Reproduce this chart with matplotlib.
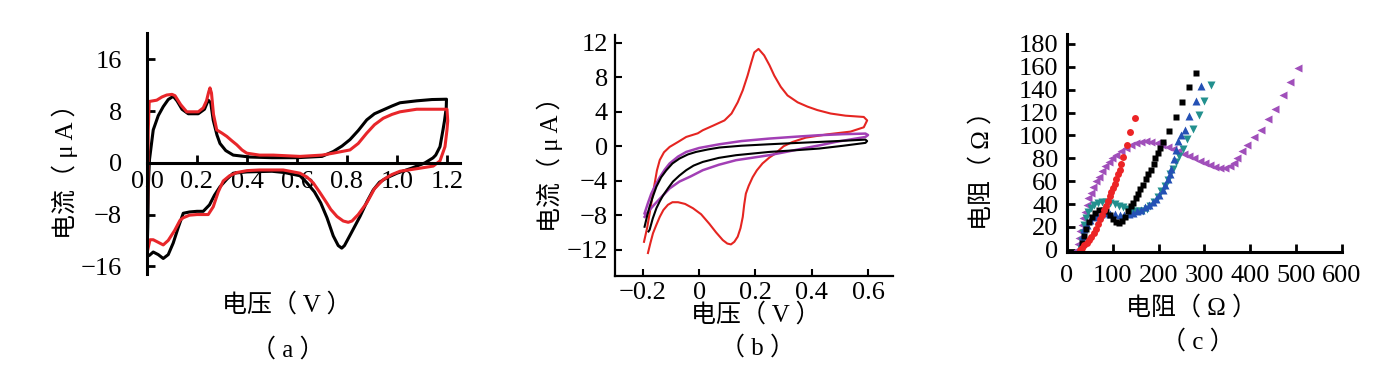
import matplotlib
matplotlib.use("Agg")
import matplotlib.pyplot as plt

plt.rcParams['font.family'] = ['Liberation Serif', 'Noto Sans CJK SC']
plt.rcParams['axes.unicode_minus'] = True

# (a) CV, 两条曲线 (电压 V, 电流 μA)
a_black_x = [0.0, 0.003, 0.006, 0.01, 0.025, 0.045, 0.065, 0.085, 0.105, 0.12, 0.14, 0.165, 0.205,
             0.23, 0.245, 0.255, 0.265, 0.28, 0.292, 0.315, 0.345, 0.412, 0.5, 0.6, 0.7, 0.745,
             0.78, 0.812, 0.845, 0.879, 0.91, 0.945, 0.98, 1.012, 1.079, 1.14, 1.198,
             1.197, 1.19, 1.184, 1.172, 1.155, 1.144, 1.112, 1.06, 1.0, 0.96, 0.93, 0.905,
             0.88, 0.852, 0.815, 0.79, 0.779, 0.765, 0.745, 0.72, 0.695, 0.67, 0.64, 0.612,
             0.55, 0.5, 0.4, 0.345, 0.32, 0.292, 0.27, 0.25, 0.225, 0.2, 0.17, 0.145, 0.125,
             0.105, 0.085, 0.065, 0.045, 0.025, 0.01, 0.0]
a_black_y = [-14.5, -10, -3, 0.5, 5.1, 7.3, 8.7, 9.8, 10.3, 9.6, 8.3, 7.6, 7.6,
             8.3, 9.7, 9.3, 6.6, 4.3, 3.0, 1.9, 1.2, 0.9, 0.8, 0.8, 1.0, 1.75,
             2.6, 3.6, 5.0, 6.65, 7.6, 8.2, 8.8, 9.3, 9.6, 9.8, 9.85,
             8.5, 6.5, 5.1, 2.5, 1.2, 0.77, 0.0, -0.8, -1.6, -2.3, -3.0, -4.2,
             -6.0, -8.3, -11.0, -12.8, -13.2, -12.8, -11.3, -8.5, -6.2, -4.5, -3.1, -2.0,
             -1.5, -1.3, -1.4, -1.6, -2.5, -3.7, -5.0, -6.5, -7.5, -7.5, -7.6, -7.8, -10.0,
             -12.4, -14.2, -14.8, -14.2, -13.8, -14.3, -14.5]

a_red_x = [0.0, 0.003, 0.005, 0.009, 0.039, 0.06, 0.079, 0.1, 0.112, 0.135, 0.159, 0.205, 0.225,
           0.238, 0.247, 0.252, 0.258, 0.266, 0.279, 0.3, 0.319, 0.34, 0.359, 0.38, 0.399, 0.45, 0.505,
           0.612, 0.7, 0.745, 0.812, 0.845, 0.879, 0.91, 0.945, 0.98, 1.012, 1.079, 1.14, 1.2,
           1.203, 1.2, 1.192, 1.172, 1.145, 1.08, 1.012, 0.98, 0.945, 0.91, 0.879, 0.845, 0.82,
           0.805, 0.785, 0.76, 0.735, 0.719, 0.69, 0.665, 0.64, 0.612, 0.545, 0.45, 0.4, 0.359,
           0.33, 0.305, 0.285, 0.265, 0.245, 0.2, 0.17, 0.145, 0.132, 0.11, 0.085, 0.065, 0.045,
           0.025, 0.012, 0.0]
a_red_y = [-14.0, -5, 5, 9.5, 9.7, 10.2, 10.5, 10.6, 10.4, 9.0, 7.9, 7.9, 8.5,
           9.6, 11.0, 11.6, 10.8, 7.5, 5.1, 4.6, 4.1, 3.4, 2.8, 2.0, 1.5, 1.2, 1.2,
           1.0, 1.2, 1.5, 2.0, 3.0, 4.6, 5.9, 6.9, 7.5, 7.9, 8.3, 8.3, 8.3,
           6.5, 5.1, 2.5, 0.3, -0.5, -0.9, -1.3, -1.8, -2.6, -4.0, -6.2, -8.0, -9.0,
           -9.2, -9.0, -8.3, -7.2, -6.2, -4.5, -3.1, -2.2, -1.6, -1.1, -1.1, -1.2, -1.5,
           -2.0, -2.8, -4.5, -6.8, -8.0, -8.0, -8.1, -8.5, -8.9, -10.5, -12.0, -12.7, -12.3,
           -11.9, -11.9, -14.0]

# (b) CV, 三条曲线
b_red_x = [-0.196, -0.185, -0.176, -0.167, -0.158, -0.15, -0.14, -0.125, -0.105, -0.075, -0.046,
           -0.005, 0.013, 0.05, 0.09, 0.115, 0.137, 0.155, 0.172, 0.185, 0.196, 0.211, 0.231,
           0.25, 0.267, 0.29, 0.314, 0.35, 0.385, 0.42, 0.467, 0.52, 0.585, 0.597, 0.585, 0.538,
           0.46, 0.379, 0.332, 0.30, 0.284, 0.273, 0.25, 0.225, 0.205, 0.19, 0.176, 0.166, 0.16,
           0.155, 0.147, 0.137, 0.125, 0.113, 0.1, 0.084, 0.06, 0.036, 0.007, -0.022, -0.05,
           -0.075, -0.095, -0.111, -0.127, -0.14, -0.153, -0.164, -0.173, -0.182]
b_red_y = [-11.1, -9.5, -7.8, -6.0, -4.3, -2.8, -1.6, -0.7, -0.08, 0.5, 1.08,
           1.5, 1.86, 2.4, 3.0, 3.8, 5.1, 6.5, 8.2, 9.7, 10.9, 11.3, 10.55,
           9.4, 8.2, 6.9, 5.9, 5.1, 4.6, 4.2, 3.8, 3.55, 3.4, 3.0, 2.2, 1.7,
           1.4, 1.0, 0.5, 0.0, -0.46, -0.8, -1.3, -2.0, -2.8, -3.6, -4.6, -5.5, -6.8,
           -8.2, -9.5, -10.5, -11.1, -11.4, -11.3, -10.9, -10.0, -9.0, -7.9, -7.2, -6.7,
           -6.5, -6.5, -6.8, -7.4, -8.2, -9.2, -10.1, -11.2, -12.4]
b_black_x = [-0.194, -0.185, -0.176, -0.164, -0.152, -0.135, -0.117, -0.095, -0.07, -0.04, -0.011,
             0.03, 0.072, 0.15, 0.249, 0.34, 0.426, 0.51, 0.591, 0.597,
             0.591, 0.51, 0.426, 0.34, 0.249, 0.131, 0.07, 0.013, -0.02, -0.046, -0.07, -0.093,
             -0.11, -0.128, -0.14, -0.152, -0.165, -0.176, -0.18]
b_black_y = [-9.35, -8.1, -7.0, -5.8, -4.7, -3.6, -2.8, -2.0, -1.43, -0.95, -0.66,
             -0.38, -0.15, 0.06, 0.23, 0.37, 0.5, 0.63, 0.77, 0.6,
             0.39, 0.05, -0.27, -0.47, -0.66, -1.04, -1.35, -1.82, -2.25, -2.78, -3.4, -4.1,
             -4.85, -5.7, -6.4, -7.2, -8.4, -9.7, -9.9]
b_purple_x = [-0.194, -0.182, -0.17, -0.155, -0.14, -0.122, -0.105, -0.075, -0.046, 0.0, 0.072,
              0.15, 0.249, 0.34, 0.426, 0.51, 0.591, 0.6,
              0.591, 0.54, 0.485, 0.43, 0.367, 0.31, 0.249, 0.19, 0.131, 0.07, 0.013, -0.03,
              -0.07, -0.105, -0.14, -0.16, -0.176, -0.194]
b_purple_y = [-7.8, -6.6, -5.5, -4.5, -3.6, -2.7, -2.0, -1.2, -0.66, -0.2, 0.23,
              0.6, 0.89, 1.1, 1.28, 1.4, 1.47, 1.3,
              1.08, 0.8, 0.5, 0.12, -0.27, -0.65, -1.04, -1.33, -1.62, -2.15, -2.78, -3.5,
              -4.1, -4.9, -6.1, -6.8, -7.4, -8.2]

# (c) 阻抗谱
c_black_x = [30, 33, 37, 42, 48, 55, 62, 70, 78, 86, 93, 100, 107, 114, 121, 127, 133, 139, 144,
             150, 155, 160, 166, 172, 178, 183, 189, 193, 198, 204, 210, 222, 238, 252, 266, 281]
c_black_y = [0, 6, 12, 18, 24, 29, 32.5, 34.5, 35, 33.5, 30.5, 26.5, 24, 23.5, 25, 29, 33.5, 38, 41,
             45, 49, 53.5, 57, 62, 66, 70, 75, 80, 84.5, 89, 94, 104, 116, 129, 142, 155]
c_red_x = [28, 33, 38, 43, 48, 53, 58, 63, 68, 72, 77, 81, 86, 90, 94, 97, 100, 104, 108, 111,
           115, 118, 122, 130, 138, 147.5]
c_red_y = [0, 2, 4, 6, 8.5, 11.5, 15, 18.5, 22.5, 26.5, 30.5, 34.5, 38.5, 43, 47, 50.5, 54, 57.5,
           62, 66, 70, 75, 81.5, 92, 103, 115]
c_blue_x = [31, 32, 34, 38, 43, 50, 58, 66, 75, 85, 95, 105, 115, 125, 135, 144, 153, 162, 171,
            180, 188, 195, 202, 209, 215, 220, 224, 228, 233, 237, 242, 249, 257, 267, 281, 293]
c_blue_y = [0, 6, 12, 18, 22, 26, 28.5, 30, 31.5, 32, 31.5, 31, 30.6, 30.6, 31, 32, 33.5, 35, 37,
            39, 41.5, 44, 48, 52.5, 57, 61.5, 66, 71, 79, 87, 95, 100, 105, 117, 130, 143]
c_teal_x = [31, 33, 35, 38, 42, 47, 53, 60, 68, 77, 86, 95, 104, 113, 122, 131, 140, 149, 158,
            166, 174, 182, 190, 198, 206, 213, 220, 226, 232, 238, 245, 253, 262, 276, 288, 300, 315]
c_teal_y = [1, 8, 15, 22, 28, 33, 36.5, 39, 40.5, 41.5, 41.5, 41, 40, 38.5, 37, 35.5, 34.5, 33.5,
            33.5, 34, 36, 38.5, 42, 46.5, 51, 55.5, 61, 66, 71, 77, 82, 88, 96.5, 106, 118, 130, 144]
c_purple_x = [22.5, 24, 26, 29, 32, 35, 39, 43, 47, 52, 57, 63, 69, 76, 83, 91, 99, 108, 118, 128,
              139, 150, 161, 172, 184, 196, 208, 220, 231, 243, 255, 266, 278, 290, 301, 312, 323,
              334, 345, 355, 364, 372, 382, 394, 409, 424, 439, 455, 471, 487, 504]
c_purple_y = [0, 5, 10, 16, 22, 28, 33, 39, 45, 50, 55, 60, 64, 69, 73, 77, 80, 83, 86, 89,
              91.5, 93, 94.5, 95, 94.7, 93.5, 92, 90, 88, 86, 84, 82, 80, 78, 76, 74, 72.5,
              71.5, 71.5, 73, 76, 80, 86, 92, 98.5, 105, 114, 123, 135, 147, 159]

fig = plt.figure(figsize=(13.88, 3.74), dpi=100)

tick_font = 19
lab_font = 18

# ---- (a)
ax1 = fig.add_axes([0.1059, 0.2674, 0.2255, 0.6444])
ax1.plot(a_black_x, a_black_y, color='black', lw=2.2)
ax1.plot(a_red_x, a_red_y, color='#e8262a', lw=2.2)
ax1.set_xlim(0, 1.252)
ax1.set_ylim(-17.2, 20.1)
ax1.spines['left'].set_position(('data', 0))
ax1.spines['bottom'].set_position(('data', 0))
for s in ['top', 'right']:
    ax1.spines[s].set_visible(False)
for s in ['left', 'bottom']:
    ax1.spines[s].set_linewidth(2.2)
ax1.set_xticks([0.0, 0.2, 0.4, 0.6, 0.8, 1.0, 1.2])
ax1.set_xticklabels(['0.0', '0.2', '0.4', '0.6', '0.8', '1.0', '1.2'])
ax1.set_yticks([-16, -8, 0, 8, 16])
ax1.tick_params(axis='x', direction='in', length=6, width=2, labelsize=tick_font, pad=6)
ax1.tick_params(axis='y', direction='in', length=6, width=2, labelsize=tick_font, pad=18)

# ---- (b)
ax2 = fig.add_axes([0.4431, 0.262, 0.2003, 0.644])
ax2.plot(b_red_x, b_red_y, color='#e52521', lw=1.5)
ax2.plot(b_purple_x, b_purple_y, color='#a23fb5', lw=1.8)
ax2.plot(b_black_x, b_black_y, color='black', lw=1.5)
ax2.set_xlim(-0.299, 0.689)
ax2.set_ylim(-15.07, 12.9)
for s in ['top', 'right']:
    ax2.spines[s].set_visible(False)
for s in ['left', 'bottom']:
    ax2.spines[s].set_linewidth(1.6)
ax2.set_xticks([-0.2, 0, 0.2, 0.4, 0.6])
ax2.set_xticklabels(['\u22120.2', '0', '0.2', '0.4', '0.6'])
ax2.set_yticks([-12, -8, -4, 0, 4, 8, 12])
ax2.tick_params(direction='in', length=5, width=1.5, labelsize=tick_font)
ax2.tick_params(axis='x', pad=4)
ax2.tick_params(axis='y', pad=5)

# ---- (c)
ax3 = fig.add_axes([0.7687, 0.326, 0.198, 0.583])
ax3.plot(c_purple_x, c_purple_y, ls='none', marker='<', ms=5.5, color='#a04fba', mec='none')
ax3.plot(c_teal_x, c_teal_y, ls='none', marker='v', ms=5.5, color='#22908e', mec='none')
ax3.plot(c_blue_x, c_blue_y, ls='none', marker='^', ms=5.5, color='#2451b5', mec='none')
ax3.plot(c_black_x, c_black_y, ls='none', marker='s', ms=4.5, color='black', mec='none')
ax3.plot(c_red_x, c_red_y, ls='none', marker='o', ms=5, color='#ec2426', mec='none')
ax3.set_xlim(0, 600)
ax3.set_ylim(-2, 188.7)
for s in ['top', 'right']:
    ax3.spines[s].set_visible(False)
for s in ['left', 'bottom']:
    ax3.spines[s].set_linewidth(2.2)
ax3.set_xticks(range(0, 601, 100))
ax3.set_yticks(range(0, 181, 20))
ax3.tick_params(direction='in', length=6, width=2, labelsize=tick_font)
ax3.tick_params(axis='x', pad=9)
ax3.tick_params(axis='y', pad=6)

# ---- 标签
W, H = 1388, 374
def ftext(px, py, s, rot=0):
    fig.text(px / W, 1 - py / H, s, fontsize=lab_font, rotation=rot,
             ha='center', va='center')

ftext(65, 165, '电流（ μ A ）', 90)
ftext(287, 305, '电压（ V ）')
ftext(288, 350, '（ a ）')
ftext(550, 158, '电流（ μ A ）', 90)
ftext(756, 315, '电压（ V ）')
ftext(758, 348, '（ b ）')
ftext(982, 165, '电阻（ Ω ）', 90)
ftext(1192, 308, '电阻（ Ω ）')
ftext(1198, 342, '（ c ）')

fig.savefig('out.png', dpi=100)
